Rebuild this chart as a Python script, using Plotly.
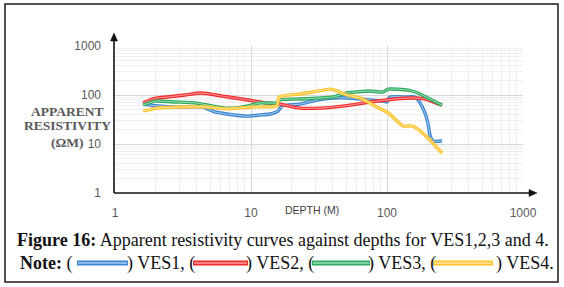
import plotly.graph_objects as go

# ---- data ----
ves1_depth = [1.61, 2.04, 3.27, 4.44, 5.43, 6.66, 9.35, 11.6, 13.8, 15.8, 16.9, 22.9, 30.6, 40.1, 53.5, 75, 93.5, 100, 105, 140, 161, 175, 190, 200, 207, 218, 254]
ves1_rho = [65, 60, 57, 57, 45, 41, 37, 39, 41, 47, 60, 65, 79, 87, 87, 79, 75, 72, 91, 91, 91, 69, 43, 26.8, 15.3, 11.5, 11.5]

ves2_depth = [1.61, 1.81, 2.04, 2.41, 3.27, 4.22, 5.0, 6.12, 7.63, 9.5, 12.7, 16.3, 22.9, 32.2, 49.1, 75, 114.5, 155, 190, 254]
ves2_rho = [69, 79, 87, 91, 100, 110, 105, 95, 87, 79, 69, 65, 54, 54, 60, 72, 83, 87, 83, 62]

ves3_depth = [1.61, 1.97, 2.76, 3.87, 5.17, 6.44, 7.63, 9.5, 11.6, 15.5, 16.3, 22.9, 40.1, 50.8, 75, 93.5, 102, 143, 169, 200, 254]
ves3_rho = [62, 75, 72, 69, 60, 54, 54, 60, 69, 69, 79, 83, 91, 110, 121, 115, 132, 126, 110, 87, 62]

ves4_depth = [1.61, 2.04, 3.01, 4.75, 6.66, 10.3, 15.5, 16.1, 22.9, 28.6, 38.1, 42.9, 50.8, 63.3, 84.4, 102, 131, 155, 200, 254]
ves4_rho = [47, 54, 57, 57, 52, 57, 60, 91, 105, 115, 132, 121, 100, 87, 57, 43, 23.3, 23.3, 13.3, 6.5]

x_ticks = [1, 10, 100, 1000]
y_ticks = [1, 10, 100, 1000]

series = [
    ("VES1", ves1_depth, ves1_rho, "#3d86cf", "#a6cdf0"),
    ("VES2", ves2_depth, ves2_rho, "#f02b2b", "#ff9f9f"),
    ("VES3", ves3_depth, ves3_rho, "#2eaa62", "#98dfb2"),
    ("VES4", ves4_depth, ves4_rho, "#ffc22a", "#ffe6a0"),
]

fig = go.Figure()
for name, d, r, c_edge, c_mid in series:
    fig.add_trace(go.Scatter(x=d, y=r, mode="lines", name=name, showlegend=False,
                             line=dict(color=c_edge, width=3.4, shape="spline", smoothing=0.5)))
    fig.add_trace(go.Scatter(x=d, y=r, mode="lines", name=name, showlegend=False,
                             line=dict(color=c_mid, width=1.0, shape="spline", smoothing=0.5)))

W, H = 564, 287
L, R, T, B = 115, 41, 46, 94
PW, PH = W - L - R, H - T - B


def px(x):
    return (x - L) / PW


def py(y):
    return (H - B - y) / PH


tickfont = dict(family="Liberation Sans", size=12, color="#595959")
fig.update_xaxes(type="log", range=[0, 3], tickvals=x_ticks, ticktext=[str(v) for v in x_ticks],
                 showgrid=True, gridcolor="#d9d9d9", gridwidth=1, zeroline=False, showline=False,
                 ticks="", ticklabelstandoff=11, tickfont=tickfont,
                 minor=dict(dtick="D1", showgrid=True, gridcolor="#efefef", gridwidth=1, ticks=""))
fig.update_yaxes(type="log", range=[0, 3], tickvals=y_ticks, ticktext=[str(v) for v in y_ticks],
                 showgrid=True, gridcolor="#d9d9d9", gridwidth=1, zeroline=False, showline=False,
                 ticks="", ticklabelstandoff=13, tickfont=tickfont,
                 minor=dict(dtick="D1", showgrid=True, gridcolor="#efefef", gridwidth=1, ticks=""))

shapes = []
# outer frame
shapes.append(dict(type="rect", xref="paper", yref="paper", x0=px(5), x1=px(558), y0=py(282), y1=py(4),
                   line=dict(color="#1a1a1a", width=1.5)))
# axis lines with arrows
shapes.append(dict(type="line", xref="paper", yref="paper", x0=px(114), x1=px(114), y0=py(193), y1=py(39),
                   line=dict(color="#111", width=1.6)))
shapes.append(dict(type="path", xref="paper", yref="paper",
                   path=f"M {px(110.5)} {py(41)} L {px(117.5)} {py(41)} L {px(114)} {py(33)} Z",
                   fillcolor="#111", line=dict(color="#111", width=0.5)))
shapes.append(dict(type="line", xref="paper", yref="paper", x0=px(114), x1=px(531), y0=py(193), y1=py(193),
                   line=dict(color="#111", width=1.6)))
shapes.append(dict(type="path", xref="paper", yref="paper",
                   path=f"M {px(529)} {py(189.5)} L {px(529)} {py(196.5)} L {px(537)} {py(193)} Z",
                   fillcolor="#111", line=dict(color="#111", width=0.5)))
# legend swatches in caption
sw = [(77, 128, "#3d86cf", "#a6cdf0"), (193, 248, "#f02b2b", "#ff9f9f"),
      (312, 370, "#2eaa62", "#98dfb2"), (433, 493, "#ffc22a", "#ffe6a0")]
for x0, x1, ce, cm in sw:
    shapes.append(dict(type="line", xref="paper", yref="paper", x0=px(x0), x1=px(x1), y0=py(263), y1=py(263),
                       line=dict(color=ce, width=5)))
    shapes.append(dict(type="line", xref="paper", yref="paper", x0=px(x0 + 1), x1=px(x1 - 1), y0=py(263), y1=py(263),
                       line=dict(color=cm, width=1.5)))
fig.update_layout(shapes=shapes)

serif = "Liberation Serif"
ann = []
for yy, t in [(111, "APPARENT"), (126, "RESISTIVITY"), (142, "(ΩM)")]:
    ann.append(dict(xref="paper", yref="paper", x=px(67), y=py(yy), xanchor="center", yanchor="middle",
                    text=f"<b>{t}</b>", showarrow=False,
                    font=dict(family=serif, size=13.5, color="#595959")))
ann.append(dict(xref="paper", yref="paper", x=px(312), y=py(210), xanchor="center", yanchor="middle",
                text="DEPTH (M)", showarrow=False,
                font=dict(family="Liberation Sans", size=10.5, color="#404040")))
capfont = dict(family=serif, size=18, color="#111")
ann.append(dict(xref="paper", yref="paper", x=px(15), y=py(240), xanchor="left", yanchor="middle",
                text="<b>Figure 16:</b> Apparent resistivity curves against depths for VES1,2,3 and 4.",
                showarrow=False, font=capfont))
ann.append(dict(xref="paper", yref="paper", x=px(74), y=py(263), xanchor="right", yanchor="middle",
                text="<b>Note:</b> (", showarrow=False, font=capfont))
for cx, t in [(160.5, ") VES1, ("), (280, ") VES2, ("), (401.5, ") VES3, (")]:
    ann.append(dict(xref="paper", yref="paper", x=px(cx), y=py(263), xanchor="center", yanchor="middle",
                    text=t, showarrow=False, font=capfont))
ann.append(dict(xref="paper", yref="paper", x=px(494), y=py(263), xanchor="left", yanchor="middle",
                text=") VES4.", showarrow=False, font=capfont))
fig.update_layout(annotations=ann)

fig.update_layout(width=W, height=H, margin=dict(l=L, r=R, t=T, b=B),
                  paper_bgcolor="white", plot_bgcolor="white", showlegend=False)

fig.write_html("out.html", config={"displayModeBar": False},
               post_script="document.body.style.margin='0';document.body.style.padding='0';")
